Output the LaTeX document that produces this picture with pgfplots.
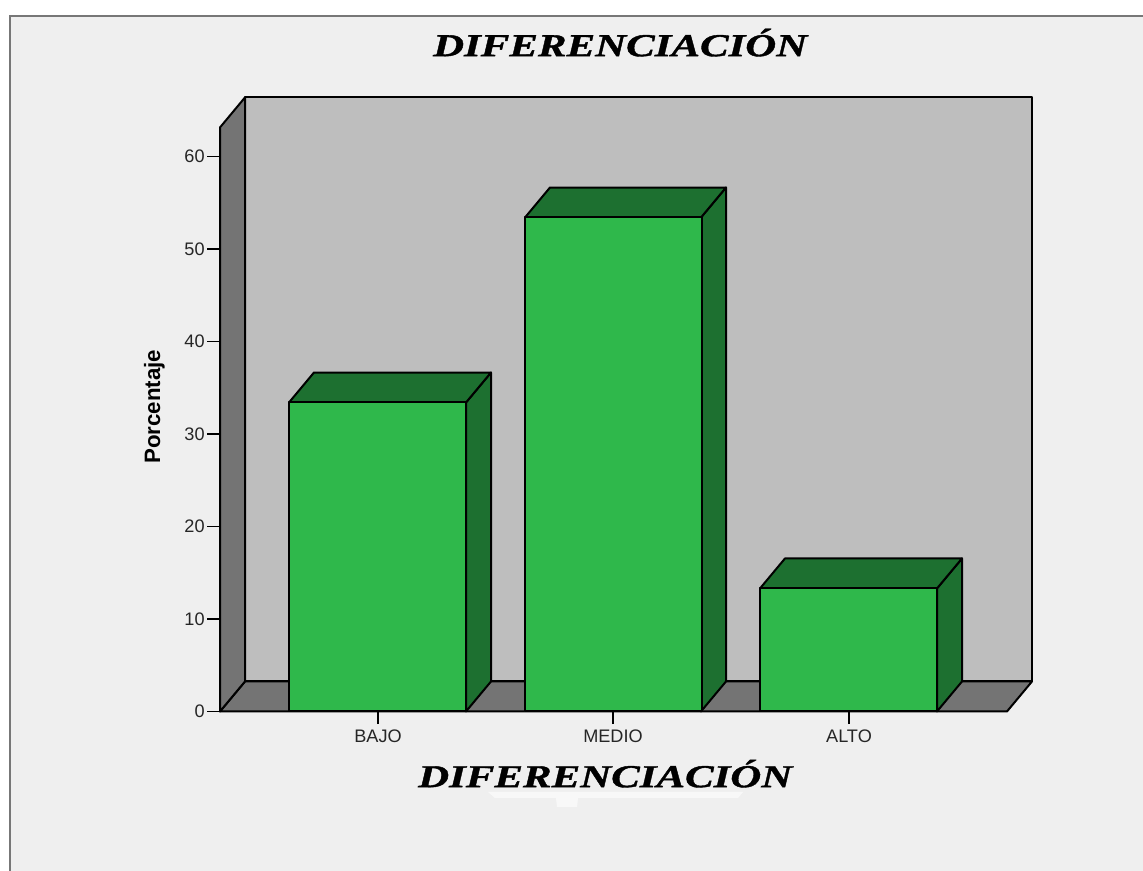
\documentclass[border=0pt]{standalone}
\usepackage{fontspec}
\setmainfont{Liberation Sans}
\newfontfamily\titlefont{Liberation Serif}[FakeStretch=1.34,FakeBold=1.2]
\usepackage{pgfplots}
\pgfplotsset{compat=1.18}
\definecolor{bgc}{HTML}{EFEFEF}
\definecolor{framec}{HTML}{777777}
\definecolor{wallc}{HTML}{747474}
\definecolor{backc}{HTML}{BEBEBE}
\definecolor{barc}{HTML}{2FB84B}
\definecolor{bardark}{HTML}{1D7030}
\begin{document}
\begin{tikzpicture}[x=0.75pt,y=0.75pt]
% page in reference pixels, origin bottom left
\fill[white,use as bounding box] (0,0) rectangle (1143,871);
\fill[bgc] (10,0) rectangle (1143,855);
\draw[framec,line width=1.5pt] (10,0) -- (10,855) -- (1143,855);
\fill[white,opacity=0.6] (488,79) -- (743,79) -- (738,73) -- (578,73) -- (577,64) -- (557,64) -- (556,73) -- (495,73) -- cycle;
\begin{axis}[
    at={(220,172.5)}, anchor=south west,
    scale only axis, width=590.25pt, height=438pt,
    xmin=220, xmax=1007, ymin=0, ymax=63.135,
    clip=false,
    axis x line*=bottom, axis y line*=left,
    axis line style={-,black,line width=1.5pt},
    xtick={378,613,849}, xticklabels={BAJO,MEDIO,ALTO},
    ytick={0,10,...,60},
    tick align=outside,
    major tick length=9.5pt,
    tick style={black,line width=1.1pt},
    tick label style={font=\fontsize{13.6}{15}\selectfont,text=black!85},
    yticklabel style={xshift=1.5pt},
    xticklabel style={yshift=-0.75pt},
    /pgf/number format/assume math mode=true,
    ylabel={\fontsize{16.7}{19}\selectfont\bfseries Porcentaje},
    ylabel style={at={(axis description cs:-0.0835,0.522)},anchor=center,rotate=0},
    xlabel={\titlefont\fontsize{24}{26}\selectfont\bfseries\itshape DIFERENCIACIÓN},
    xlabel style={at={(axis description cs:0.4895,-0.1065)},anchor=center},
    title={\titlefont\fontsize{24}{26}\selectfont\bfseries\itshape DIFERENCIACIÓN},
    title style={at={(axis description cs:0.5085,1.1315)},anchor=center},
    every axis plot/.append style={line width=1.5pt,mark=none,line join=round},
]
% back wall, floor, left wall
\addplot[draw=black,fill=backc] coordinates {(245,3.24) (245,66.38) (1032,66.38) (1032,3.24)} -- cycle;
\addplot[draw=black,fill=wallc] coordinates {(220,0) (245,3.24) (1032,3.24) (1007,0)} -- cycle;
\addplot[draw=black,fill=wallc] coordinates {(220,0) (220,63.135) (245,66.38) (245,3.24)} -- cycle;
% BAJO
\addplot[draw=black,fill=bardark] coordinates {(466,0) (491,3.24) (491,36.64) (466,33.4)} -- cycle;
\addplot[draw=black,fill=bardark] coordinates {(289,33.4) (466,33.4) (491,36.64) (314,36.64)} -- cycle;
% MEDIO
\addplot[draw=black,fill=bardark] coordinates {(701,0) (726,3.24) (726,56.64) (701,53.4)} -- cycle;
\addplot[draw=black,fill=bardark] coordinates {(525,53.4) (701,53.4) (726,56.64) (550,56.64)} -- cycle;
% ALTO
\addplot[draw=black,fill=bardark] coordinates {(937,0) (962,3.24) (962,16.54) (937,13.3)} -- cycle;
\addplot[draw=black,fill=bardark] coordinates {(760,13.3) (937,13.3) (962,16.54) (785,16.54)} -- cycle;
% front faces
\addplot[ybar,bar width=132.75pt,bar shift=0pt,draw=black,fill=barc] coordinates {(377.5,33.4) (613,53.4) (848.5,13.3)};
\end{axis}
\end{tikzpicture}
\end{document}
